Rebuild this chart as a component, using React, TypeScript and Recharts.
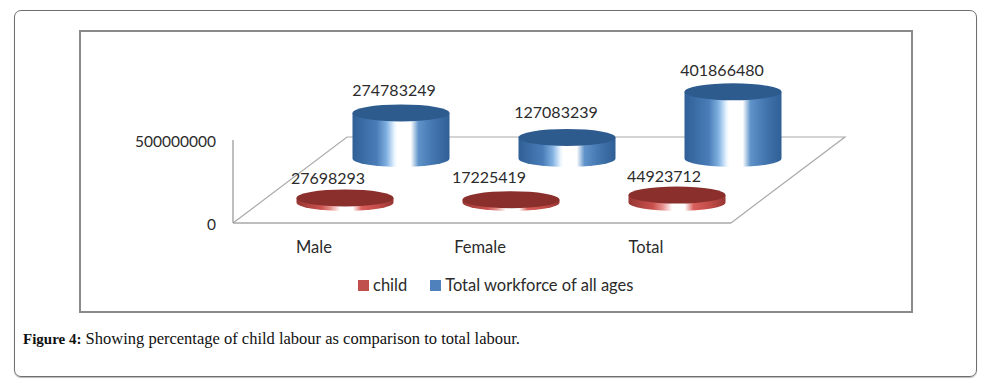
import { BarChart, Bar, XAxis, YAxis, Legend, LabelList } from "recharts";

const categories = ["Male", "Female", "Total"];
const childValues = [27698293, 17225419, 44923712];
const workforceValues = [274783249, 127083239, 401866480];
const yTicks = [0, 500000000];

const data = categories.map((name, i) => ({ name, child: childValues[i], workforce: workforceValues[i] }));

// fake 3d: series sit on rows of the floor, offset back from the front plane
const FONT = "Lato, 'Open Sans', sans-serif";
const TEXT = "#2b2b2b";
const AXIS = "#a9a9a9";
const RY = 8.5;
const ROW_CHILD = { dx: 28.5, dy: -20.5 };
const ROW_WORK = { dx: 84.5, dy: -64.5 };
const NUDGE_CHILD = [[-17, -20], [-22, -23.5], [-13, -20]];
const NUDGE_WORK = [[-7, -23.5], [-11, -25.5], [-11, -22]];

function Cylinder({ x, y, width, height, row, side, top }: any) {
  const l = x + row.dx;
  const r = l + width;
  const rx = width / 2;
  const t = y + row.dy;
  const b = t + height;
  return (
    <g>
      <path d={`M${l},${t} L${l},${b} A${rx},${RY} 0 0 0 ${r},${b} L${r},${t} Z`} fill={`url(#${side})`} />
      <ellipse cx={l + rx} cy={t} rx={rx} ry={RY} fill={top} />
    </g>
  );
}

function dataLabel(row: { dx: number; dy: number }, nudge: number[][]) {
  return (p: any) => (
    <text
      x={p.x + p.width / 2 + row.dx + nudge[p.index][0]}
      y={p.y + row.dy + nudge[p.index][1]}
      textAnchor="middle"
      dominantBaseline="central"
      fontFamily={FONT}
      fontSize={16}
      fill={TEXT}
    >
      {p.value}
    </text>
  );
}

function LegendRow({ payload }: any) {
  return (
    <div style={{ display: "flex", fontFamily: FONT, fontSize: 16.5, color: TEXT, lineHeight: "16px" }}>
      {(payload || []).map((item: any) => (
        <div key={item.value} style={{ display: "flex", alignItems: "center", marginRight: 23 }}>
          <span style={{ width: 11, height: 11, background: item.color, marginRight: 4, display: "block" }} />
          <span>{item.value}</span>
        </div>
      ))}
    </div>
  );
}

export default function App() {
  return (
    <div style={{ position: "absolute", left: 0, top: 0, width: 997, height: 383, background: "#fff", overflow: "hidden" }}>
      <div style={{ position: "absolute", left: 14, top: 10, width: 961, height: 365, border: "1px solid #6f6f6f", borderRadius: 7, boxShadow: "0 1px 1px #bbb" }} />
      <div style={{ position: "absolute", left: 79, top: 30, width: 830, height: 279, border: "2px solid #8a8a8a" }} />
      <div style={{ position: "absolute", left: 23, top: 329, fontFamily: "'Liberation Serif', serif", fontSize: 16.5, color: "#111", whiteSpace: "nowrap" }}>
        <b style={{ fontSize: 15 }}>Figure 4:</b> Showing percentage of child labour as comparison to total labour.
      </div>
      <BarChart
        style={{ position: "absolute", left: 0, top: 0 }}
        width={997}
        height={383}
        data={data}
        barSize={97}
        barGap={-97}
        margin={{ top: 140, right: 266, bottom: 130, left: 173 }}
      >
        <defs>
          <linearGradient id="sideBlue" x1="0" y1="0" x2="1" y2="0">
            <stop offset="0%" stopColor="#2f5f95" />
            <stop offset="25%" stopColor="#4a7db8" />
            <stop offset="35%" stopColor="#7fb0e0" />
            <stop offset="43%" stopColor="#e6f3ff" />
            <stop offset="46%" stopColor="#ffffff" />
            <stop offset="60%" stopColor="#ffffff" />
            <stop offset="68%" stopColor="#5f93c9" />
            <stop offset="82%" stopColor="#4577b0" />
            <stop offset="100%" stopColor="#2f5f95" />
          </linearGradient>
          <linearGradient id="sideRed" x1="0" y1="0" x2="1" y2="0">
            <stop offset="0%" stopColor="#963633" />
            <stop offset="25%" stopColor="#c9504c" />
            <stop offset="35%" stopColor="#e58f8c" />
            <stop offset="42%" stopColor="#f8dcdb" />
            <stop offset="45%" stopColor="#ffffff" />
            <stop offset="58%" stopColor="#ffffff" />
            <stop offset="67%" stopColor="#d9605c" />
            <stop offset="84%" stopColor="#c24b47" />
            <stop offset="100%" stopColor="#963633" />
          </linearGradient>
        </defs>
        {/* floor of the 3d plot */}
        <polyline points="233,223 347,137 845,137 731,223" fill="none" stroke={AXIS} strokeWidth={1.2} />
        <XAxis
          dataKey="name"
          interval={0}
          height={30}
          tickLine={false}
          tickMargin={12}
          axisLine={{ stroke: AXIS, strokeWidth: 1.5 }}
          tick={{ fontFamily: FONT, fontSize: 16.5, fill: TEXT, dx: -2 }}
        />
        <YAxis
          width={60}
          domain={[0, 500000000]}
          ticks={yTicks}
          tickLine={false}
          tickMargin={11}
          axisLine={{ stroke: AXIS, strokeWidth: 1.5 }}
          tick={{ fontFamily: FONT, fontSize: 15.5, fill: TEXT, dy: 1 }}
        />
        <Legend
          layout="horizontal"
          verticalAlign="middle"
          align="center"
          itemSorter="dataKey"
          wrapperStyle={{ left: 358, top: 277, width: 320 }}
          content={<LegendRow />}
        />
        <Bar
          dataKey="child"
          name="child"
          fill="#c0504d"
          isAnimationActive={false}
          shape={(p: any) => <Cylinder {...p} row={ROW_CHILD} side="sideRed" top="#8a2f2c" />}
        >
          <LabelList dataKey="child" content={dataLabel(ROW_CHILD, NUDGE_CHILD)} />
        </Bar>
        <Bar
          dataKey="workforce"
          name="Total workforce of all ages"
          fill="#4f81bd"
          isAnimationActive={false}
          shape={(p: any) => <Cylinder {...p} row={ROW_WORK} side="sideBlue" top="#2d5b8e" />}
        >
          <LabelList dataKey="workforce" content={dataLabel(ROW_WORK, NUDGE_WORK)} />
        </Bar>
      </BarChart>
    </div>
  );
}
